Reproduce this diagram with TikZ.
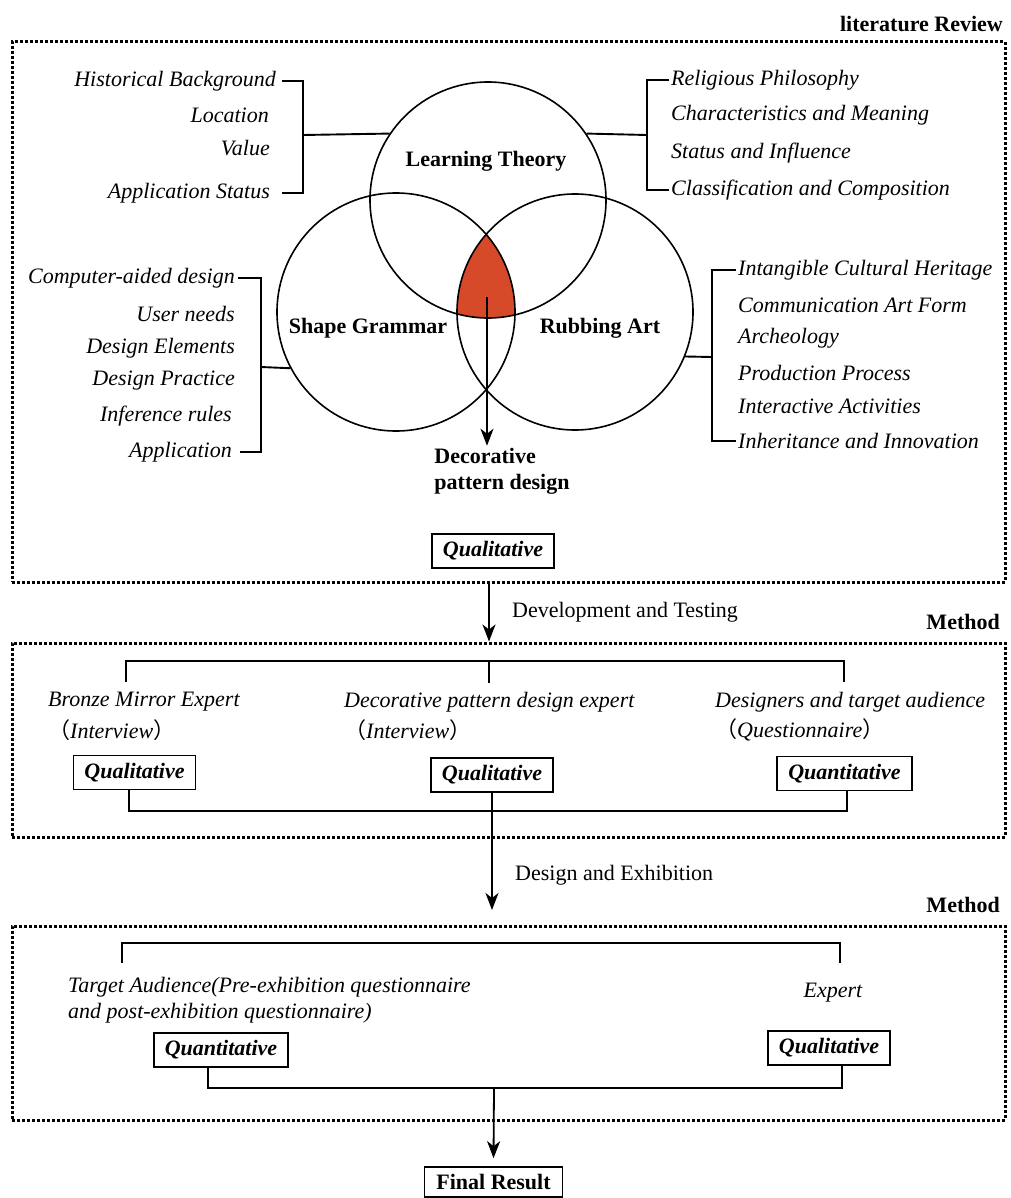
\documentclass[tikz,border=0pt]{standalone}
\usepackage{fontspec}
\setmainfont{Liberation Serif}
\newfontfamily\cjk{Noto Sans CJK SC}
\usetikzlibrary{arrows.meta}
\definecolor{redfill}{RGB}{214,74,42}
\newcommand\fsz{\fontsize{22}{26}\selectfont}
\tikzset{
 itx/.style={font=\fsz\itshape, inner sep=0pt},
 bfx/.style={font=\fsz\bfseries, inner sep=0pt},
 rmx/.style={font=\fsz, inner sep=0pt},
 qbox/.style={draw, line width=1.6pt, font=\fsz\bfseries\itshape, inner xsep=11pt, inner ysep=0pt, minimum height=34pt},
 fbox/.style={draw, line width=1.6pt, font=\fsz\bfseries, inner xsep=12pt, inner ysep=0pt, minimum height=30pt},
 dbox/.style={draw, line width=3pt, dash pattern=on 3pt off 2pt, minimum width=993pt, inner sep=0pt},
 ring/.style={circle, draw, line width=1.6pt, inner sep=0pt},
 ln/.style={line width=1.9pt},
 arr/.style={line width=1.8pt, -{Stealth[length=17pt,width=13pt,inset=5pt]}},
}
\begin{document}
\begin{tikzpicture}[x=1pt,y=-1pt]
\useasboundingbox (0,0) rectangle (1010,1198);
\fill[white] (0,0) rectangle (1010,1198);

% dashed frames
\node[dbox, minimum height=540pt] (box1) at (508.5,312) {};
\node[dbox, minimum height=194pt] (box2) at (508.5,740) {};
\node[dbox, minimum height=194pt] (box3) at (508.5,1023) {};
\node[bfx, anchor=east] (litr) at (1003,24) {literature Review};
\node[bfx, anchor=east] (meth1) at (1000,622) {Method};
\node[bfx, anchor=east] (meth2) at (1000,905) {Method};

% Venn diagram
\coordinate (clt) at (488,200);
\coordinate (csg) at (396,312);
\coordinate (cra) at (575,312);
\begin{scope}
\clip (clt) circle[radius=118pt];
\clip (csg) circle[radius=119pt];
\fill[redfill] (cra) circle[radius=118pt];
\end{scope}
\node[ring, minimum size=236pt] (lt) at (clt) {};
\node[ring, minimum size=238pt] (sg) at (csg) {};
\node[ring, minimum size=236pt] (ra) at (cra) {};
\node[bfx] (ltl) at (486,161) {Learning Theory};
\node[bfx] (sgl) at (368,328) {Shape Grammar};
\node[bfx] (ral) at (600,328) {Rubbing Art};

\node[bfx, align=left, inner sep=2pt] (dec) at (502,471) {Decorative\\pattern design};
\coordinate (redc) at (487,297);
\draw[arr] (redc) -- (redc |- dec.north);

% left top bracket
\node[itx, anchor=east] (hb) at (276,81) {Historical Background};
\node[itx, anchor=east] (loc) at (269,115) {Location};
\node[itx, anchor=east] (val) at (270,148) {Value};
\node[itx, anchor=east] (aps) at (270,193) {Application Status};
\coordinate (bA) at (303,135);
\draw[ln] ([xshift=6pt]hb.east) -| (bA) |- ([xshift=12pt]aps.east);
\draw[ln] (bA) -- (lt.146);

% right top bracket
\node[itx, anchor=west] (rp) at (671,80) {Religious Philosophy};
\node[itx, anchor=west] (cm) at (671,115) {Characteristics and Meaning};
\node[itx, anchor=west] (si) at (671,153) {Status and Influence};
\node[itx, anchor=west] (cc) at (671,190) {Classification and Composition};
\coordinate (bB) at (647,135);
\draw[ln] ([xshift=-2pt]rp.west) -| (bB) |- ([xshift=-2pt]cc.west);
\draw[ln] (bB) -- (lt.34);

% left middle bracket
\node[itx, anchor=east] (cad) at (235,278) {Computer-aided design};
\node[itx, anchor=east] (un) at (235,314) {User needs};
\node[itx, anchor=east] (de) at (235,348) {Design Elements};
\node[itx, anchor=east] (dp) at (235,381) {Design Practice};
\node[itx, anchor=east] (ir) at (232,416) {Inference rules};
\node[itx, anchor=east] (ap) at (232,452) {Application};
\coordinate (bC) at (261,367);
\draw[ln] ([xshift=3pt]cad.east) -| (bC) |- ([xshift=8pt]ap.east);
\draw[ln] (bC) -- (sg.208);

% right middle bracket
\node[itx, anchor=west] (ich) at (738,270) {Intangible Cultural Heritage};
\node[itx, anchor=west] (caf) at (738,305) {Communication Art Form};
\node[itx, anchor=west] (arc) at (738,338) {Archeology};
\node[itx, anchor=west] (pp) at (738,373) {Production Process};
\node[itx, anchor=west] (ia) at (738,406) {Interactive Activities};
\node[itx, anchor=west] (ii) at (738,441) {Inheritance and Innovation};
\coordinate (bD) at (712,357);
\draw[ln] ([xshift=-2pt]ich.west) -| (bD) |- ([xshift=-2pt]ii.west);
\draw[ln] (bD) -- (ra.338);

\node[qbox] (q0) at (493,551) {Qualitative};

% arrow 1
\coordinate (a1) at (489,0);
\draw[arr] (box1.south -| a1) -- (box2.north -| a1);
\node[rmx, anchor=west] (dt) at (512,612) {Development and Testing};

% box 2 content
\coordinate (t2l) at (126,682);
\coordinate (t2m) at (489,683);
\coordinate (t2r) at (844,682);
\coordinate (t2y) at (0,661);
\draw[ln] (t2l) |- (t2r |- t2y) -- (t2r);
\draw[ln] (t2m |- t2y) -- (t2m);
\node[itx, anchor=west] (bme) at (48,702) {Bronze Mirror Expert};
\node[itx, anchor=west] (bmi) at (48,730) {{\cjk （}Interview{\cjk ）}};
\node[itx, anchor=west] (dpe) at (344,702) {Decorative pattern design expert};
\node[itx, anchor=west] (dpi) at (344,730) {{\cjk （}Interview{\cjk ）}};
\node[itx, anchor=west] (dta) at (715,702) {Designers and target audience};
\node[itx, anchor=west] (dtq) at (715,730) {{\cjk （}Questionnaire{\cjk ）}};
\node[qbox] (q1) at (134.5,772.5) {Qualitative};
\node[qbox] (q2) at (492,775) {Qualitative};
\node[qbox] (q3) at (844.5,773.5) {Quantitative};
\coordinate (b2l) at (129,811);
\coordinate (b2r) at (847,811);
\draw[ln] (q1.south -| b2l) -- (b2l) -- (b2r) -- (q3.south -| b2r);
\coordinate (a2) at (492,910);
\draw[arr] (q2.south) -- (a2);
\node[rmx, anchor=west] (dx) at (515,875) {Design and Exhibition};

% box 3 content
\coordinate (t3l) at (122,963);
\coordinate (t3r) at (840,963);
\coordinate (t3y) at (0,943);
\draw[ln] (t3l) |- (t3r |- t3y) -- (t3r);
\node[itx, anchor=west, align=left] (ta) at (68,1000) {Target Audience(Pre-exhibition questionnaire\\and post-exhibition questionnaire)};
\node[itx] (ex) at (833,993) {Expert};
\node[qbox] (qa) at (221,1050) {Quantitative};
\node[qbox] (qb) at (829,1048) {Qualitative};
\coordinate (b3l) at (208,1088);
\coordinate (b3r) at (842,1088);
\draw[ln] (qa.south -| b3l) -- (b3l) -- (b3r) -- (qb.south -| b3r);
\coordinate (b3m) at (494,1088);
\node[fbox] (fr) at (493.5,1182) {Final Result};
\draw[arr] (b3m) -- ([yshift=8pt]fr.north);
\end{tikzpicture}
\end{document}
